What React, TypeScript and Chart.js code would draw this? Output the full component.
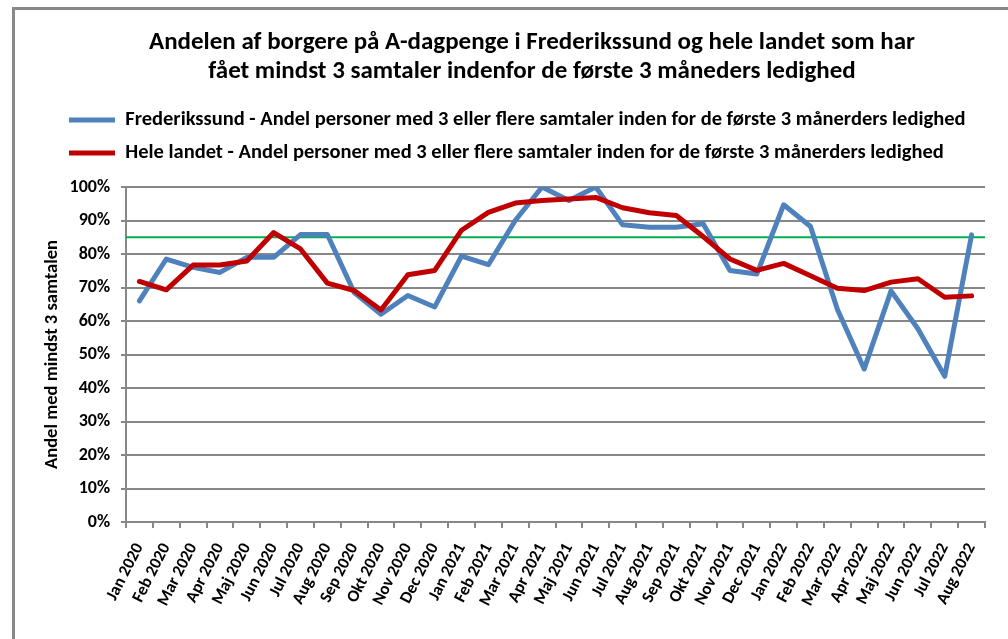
import React, { useEffect, useRef } from 'react';
import { Chart, registerables } from 'chart.js';

Chart.register(...registerables);

const MONTHS = [
  'Jan 2020', 'Feb 2020', 'Mar 2020', 'Apr 2020', 'Maj 2020', 'Jun 2020', 'Jul 2020', 'Aug 2020',
  'Sep 2020', 'Okt 2020', 'Nov 2020', 'Dec 2020', 'Jan 2021', 'Feb 2021', 'Mar 2021', 'Apr 2021',
  'Maj 2021', 'Jun 2021', 'Jul 2021', 'Aug 2021', 'Sep 2021', 'Okt 2021', 'Nov 2021', 'Dec 2021',
  'Jan 2022', 'Feb 2022', 'Mar 2022', 'Apr 2022', 'Maj 2022', 'Jun 2022', 'Jul 2022', 'Aug 2022',
];

const FREDERIKSSUND = [
  66, 78.5, 76, 74.5, 79, 79, 85.8, 85.8, 68.5, 62, 67.6, 64.2,
  79.4, 76.8, 90, 100, 96, 100, 88.7, 88, 88, 89, 75.1, 74,
  94.7, 88.2, 63.5, 45.7, 69, 57.7, 43.5, 85.7,
];

const HELE_LANDET = [
  71.8, 69.3, 76.7, 76.7, 77.9, 86.4, 81.5, 71.3, 69.1, 63.3, 73.8, 75.1,
  87.1, 92.4, 95.2, 96, 96.4, 96.9, 93.8, 92.3, 91.5, 85.2, 78.5, 75.1,
  77.2, 73.5, 69.8, 69.1, 71.6, 72.6, 67.1, 67.5,
];

const TARGET = 85;

const SERIES_NAMES = [
  'Frederikssund - Andel personer med 3 eller flere samtaler inden for de første 3 månerders ledighed',
  'Hele landet - Andel personer med 3 eller flere samtaler inden for de første 3 månerders ledighed',
];

const TITLE_LINES = [
  'Andelen af borgere på A-dagpenge i Frederikssund og hele landet som har',
  'fået mindst 3 samtaler indenfor de første 3 måneders ledighed',
];

const Y_TITLE = 'Andel med mindst 3 samtalen';

const FONT = "Carlito, 'Liberation Sans Narrow', 'Liberation Sans', Arial, sans-serif";
const GRID = '#878787';

const shiftPlugin = {
  id: 'shiftBoxes',
  afterLayout(chart: any) {
    const t = chart.titleBlock;
    if (t) {
      t.left += 19.5;
      t.right += 19.5;
    }
    const l = chart.legend;
    if (l) {
      l.left += 16.5;
      l.right += 16.5;
    }
  },
};

export default function App() {
  const ref = useRef<HTMLCanvasElement | null>(null);

  useEffect(() => {
    if (!ref.current) return;
    const chart = new Chart(ref.current, {
      type: 'line',
      data: {
        labels: MONTHS,
        datasets: [
          {
            label: SERIES_NAMES[0],
            data: FREDERIKSSUND,
            borderColor: '#4f81bd',
            backgroundColor: '#4f81bd',
            borderWidth: 5,
            pointRadius: 0,
            tension: 0,
            borderJoinStyle: 'round',
            borderCapStyle: 'round',
            order: 1,
          },
          {
            label: SERIES_NAMES[1],
            data: HELE_LANDET,
            borderColor: '#c00000',
            backgroundColor: '#c00000',
            borderWidth: 5,
            pointRadius: 0,
            tension: 0,
            borderJoinStyle: 'round',
            borderCapStyle: 'round',
            order: 0,
          },
          {
            label: 'Mål',
            data: [
              { x: 0, y: TARGET },
              { x: 1, y: TARGET },
            ],
            xAxisID: 'xTarget',
            borderColor: '#00b050',
            backgroundColor: '#00b050',
            borderWidth: 2,
            pointRadius: 0,
            order: 2,
          } as any,
        ],
      },
      options: {
        animation: false,
        responsive: false,
        events: [],
        layout: { padding: { left: 40, right: 23, top: 0, bottom: 0 } },
        plugins: {
          title: {
            display: true,
            text: TITLE_LINES,
            color: '#000',
            font: { family: FONT, size: 25, weight: 'bold', lineHeight: 29 / 25 },
            padding: { top: 28.5, bottom: 10.75 },
          },
          subtitle: {
            display: true,
            text: '',
            weight: 500,
            font: { family: FONT, size: 14, lineHeight: 13.75 / 14 },
            padding: 0,
          } as any,
          legend: {
            display: true,
            position: 'top',
            align: 'start',
            labels: {
              color: '#000',
              font: { family: FONT, size: 20.5, weight: 'bold' },
              usePointStyle: true,
              pointStyleWidth: 46,
              pointStyle: 'line',
              padding: 12.5,
              filter: (item: any) => item.datasetIndex !== 2,
              sort: (a: any, b: any) => a.datasetIndex - b.datasetIndex,
            },
          },
          tooltip: { enabled: false },
        },
        scales: {
          x: {
            type: 'category',
            offset: true,
            grid: {
              offset: true,
              drawOnChartArea: false,
              drawTicks: true,
              tickLength: 6,
              color: GRID,
              lineWidth: 2,
            },
            border: { color: GRID, width: 2 },
            ticks: {
              autoSkip: false,
              minRotation: 63,
              maxRotation: 63,
              color: '#000',
              padding: 12,
              font: { family: FONT, size: 17, weight: 'bold' },
            },
            afterFit: (scale: any) => {
              scale.height = 117;
            },
          },
          xTarget: {
            type: 'linear',
            display: false,
            min: 0,
            max: 1,
          },
          y: {
            min: 0,
            max: 100,
            grid: {
              color: GRID,
              lineWidth: 2,
              drawTicks: true,
              tickLength: 5,
            },
            border: { color: GRID, width: 2 },
            ticks: {
              stepSize: 10,
              color: '#000',
              padding: 11,
              font: { family: FONT, size: 18, weight: 'bold' },
              callback: (v: any) => `${v}%`,
            },
            title: {
              display: true,
              text: Y_TITLE,
              color: '#000',
              font: { family: FONT, size: 18.5, weight: 'bold' },
              padding: { top: 1, bottom: 0 },
            },
            afterFit: (scale: any) => {
              scale.width = 86;
            },
          },
        },
      } as any,
      plugins: [shiftPlugin],
    });
    return () => chart.destroy();
  }, []);

  return (
    <div
      style={{
        position: 'fixed',
        left: 0,
        top: 0,
        width: 1008,
        height: 639,
        background: '#fff',
        overflow: 'hidden',
      }}
    >
      <div
        style={{
          position: 'absolute',
          left: 12,
          top: 7,
          width: 1010,
          height: 650,
          borderLeft: '3px solid #888',
          borderTop: '3px solid #888',
        }}
      />
      <canvas
        ref={ref}
        width={1008}
        height={639}
        style={{ position: 'absolute', left: 0, top: 0, width: 1008, height: 639 }}
      />
    </div>
  );
}
